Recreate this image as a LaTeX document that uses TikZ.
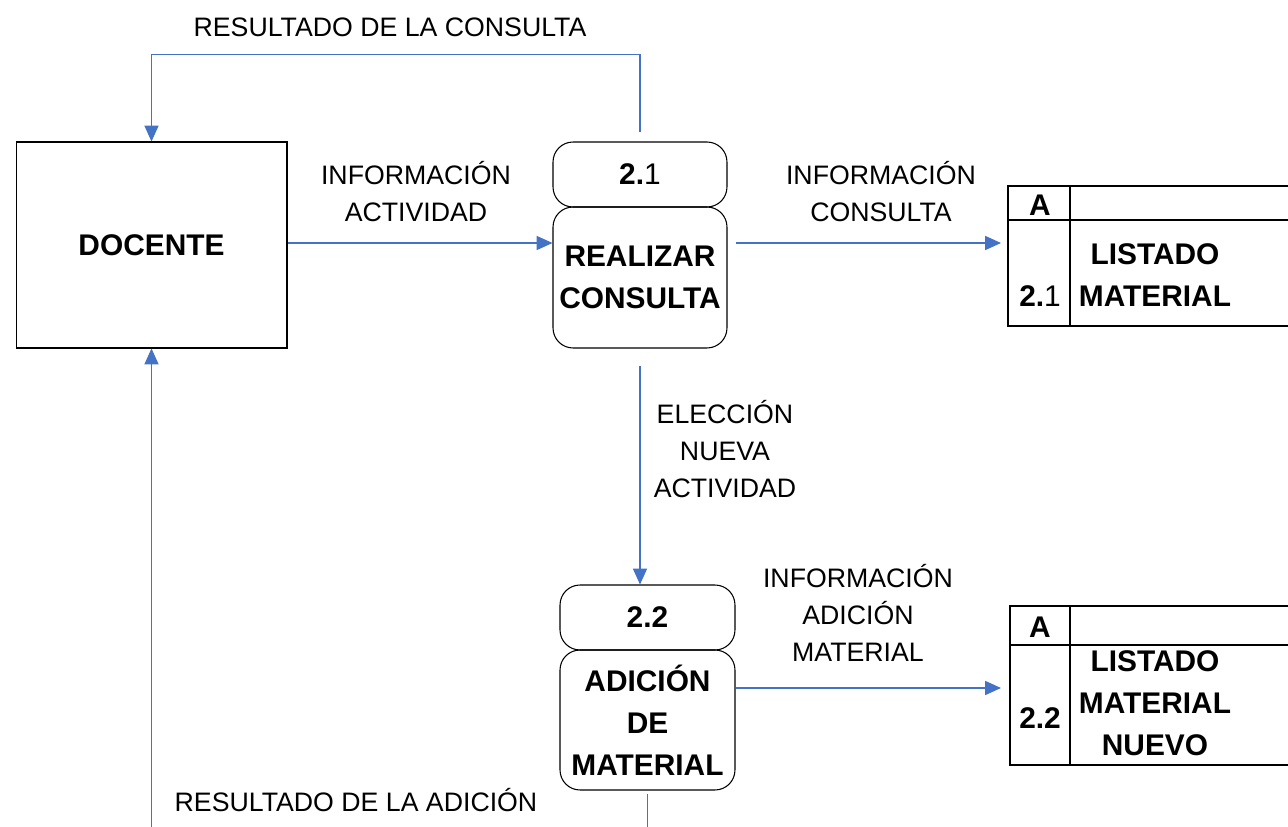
\documentclass[tikz,border=0pt]{standalone}
\usepackage{fontspec}
\setmainfont{Liberation Sans}
\usetikzlibrary{arrows.meta,positioning}
\definecolor{flowblue}{RGB}{68,114,196}
\tikzset{%
   entity/.style={rectangle, draw=black, line width=0.6pt, minimum width=5.42cm, minimum height=4.12cm, inner sep=0mm, font=\bfseries\fontsize{17pt}{23.8pt}\selectfont},
   prochead/.style={rectangle, rounded corners=0.4cm, draw=black, line width=0.6pt, minimum width=3.48cm, minimum height=1.3cm, inner sep=0mm, align=center, font=\bfseries\fontsize{17pt}{23.8pt}\selectfont},
   procbody/.style={prochead, minimum height=2.82cm},
   flowline/.style={draw=flowblue, line width=0.6pt},
   flow/.style={flowline, -{Triangle[length=9pt, width=8pt]}},
   lbl/.style={align=center, inner sep=0mm, font=\fontsize{15.2pt}{21pt}\selectfont},
   storetxt/.style={align=center, inner sep=0mm, font=\bfseries\fontsize{17pt}{23.8pt}\selectfont},
   storeline/.style={draw=black, line width=0.6pt},
}

\begin{document}
\begin{tikzpicture}[x=0.02cm, y=-0.02cm]
   \useasboundingbox (0,0) rectangle (1288,827);
   % external entity
   \node[entity] (doc) at (151.5,245) {DOCENTE};
   % processes
   \node[prochead] (h21) at (640,174.5) {2.\mdseries 1};
   \node[procbody] (b21) at (640,277.5) {REALIZAR\\CONSULTA};
   \node[prochead, minimum width=3.5cm] (h22) at (647.5,617.5) {2.2};
   \node[procbody, minimum width=3.5cm, minimum height=2.8cm] (b22) at (647.5,720) {ADICIÓN\\DE\\MATERIAL};
   % data stores
   \draw[storeline] (1288,186) -- (1008,186) -- (1008,326) -- (1288,326);
   \draw[storeline] (1008,220) -- (1288,220);
   \draw[storeline] (1070,186) -- (1070,326);
   \node[storetxt] (a21) at (1040,205) {A};
   \node[storetxt] (n21) at (1040,296) {2.\mdseries 1};
   \node[storetxt] (s21txt) at (1155,275) {LISTADO\\MATERIAL};
   \draw[storeline] (1288,606) -- (1010,606) -- (1010,765) -- (1288,765);
   \draw[storeline] (1010,645) -- (1288,645);
   \draw[storeline] (1070,606) -- (1070,765);
   \node[storetxt] (a22) at (1040,627) {A};
   \node[storetxt] (n22) at (1040,718) {2.2};
   \node[storetxt] (s22txt) at (1155,703) {LISTADO\\MATERIAL\\NUEVO};
   \coordinate (s21) at (1008,243);
   \coordinate (s22) at (1010,688);
   \coordinate (e1) at (151.5,827);
   \coordinate (e2) at (647.5,827);
   % flows
   \draw[flow] (doc.east |- 0,243) -- (b21.west |- 0,243);
   \draw[flow, shorten <=0.16cm, shorten >=0.14cm] (b21.east |- s21) -- (s21);
   \draw[flow, shorten <=0.34cm] (b21.south) -- (b21.south |- h22.north);
   \draw[flow, shorten >=0.18cm] (b22.east |- s22) -- (s22);
   \draw[flow, shorten <=0.18cm] (h21.north) -- ++(0,-87) -| (doc.north);
   \draw[flow] (e1) -- (doc.south);
   \draw[flowline, shorten <=0.06cm] (b22.south) -- (e2);
   % labels
   \node[lbl] (l1) at (390,27) {RESULTADO DE LA CONSULTA};
   \node[lbl] (l2) at (416,192) {INFORMACIÓN\\ACTIVIDAD};
   \node[lbl] (l3) at (881,192) {INFORMACIÓN\\CONSULTA};
   \node[lbl] (l4) at (725,449) {ELECCIÓN\\NUEVA\\ACTIVIDAD};
   \node[lbl] (l5) at (858,613) {INFORMACIÓN\\ADICIÓN\\MATERIAL};
   \node[lbl] (l6) at (356,800) {RESULTADO DE LA ADICIÓN};
\end{tikzpicture}
\end{document}
